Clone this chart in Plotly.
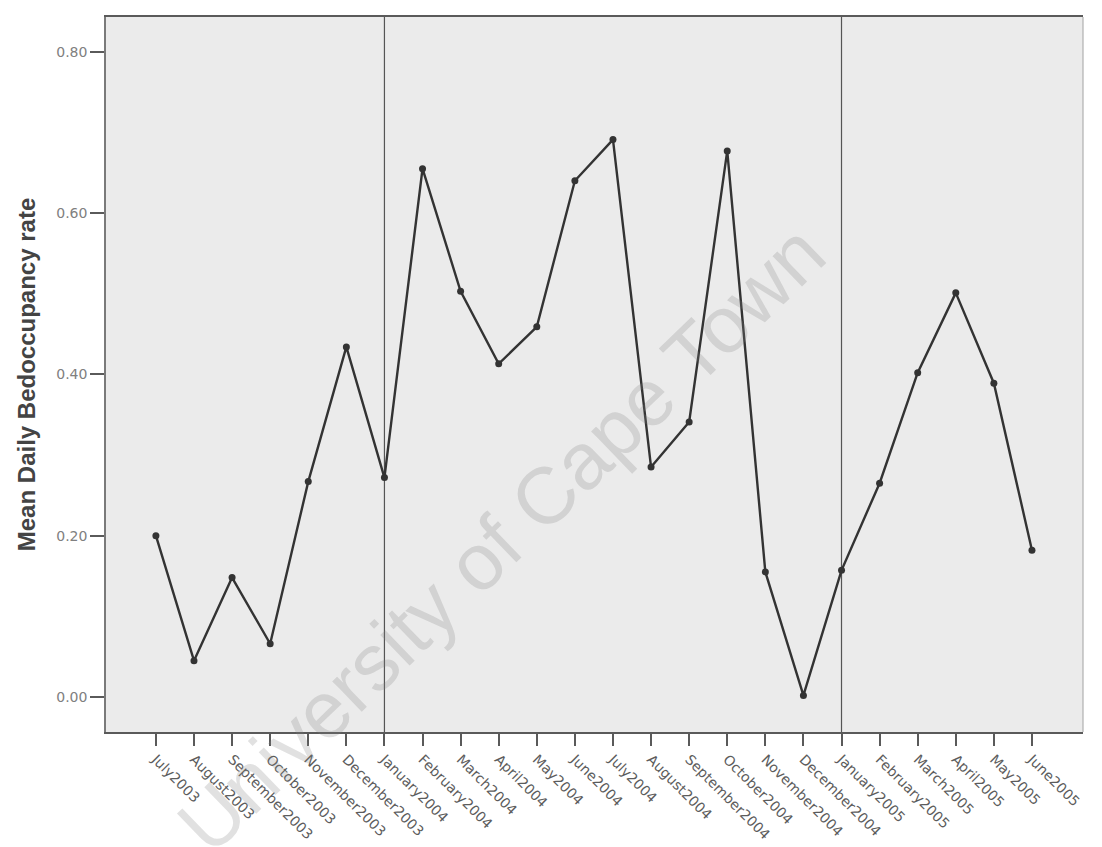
import plotly.graph_objects as go

# Monthly mean daily bed occupancy, July 2003 - June 2005
months = [
    "July2003", "August2003", "September2003", "October2003", "November2003", "December2003",
    "January2004", "February2004", "March2004", "April2004", "May2004", "June2004",
    "July2004", "August2004", "September2004", "October2004", "November2004", "December2004",
    "January2005", "February2005", "March2005", "April2005", "May2005", "June2005",
]
occupancy = [
    0.200, 0.045, 0.148, 0.066, 0.267, 0.434,
    0.272, 0.655, 0.503, 0.413, 0.459, 0.640,
    0.691, 0.285, 0.341, 0.677, 0.155, 0.002,
    0.157, 0.265, 0.402, 0.501, 0.389, 0.182,
]
year_breaks = ["January2004", "January2005"]
y_ticks = [0.0, 0.2, 0.4, 0.6, 0.8]

ink = "#333333"
axis_grey = "#5a5a5a"
label_grey = "#5c5c5c"

fig = go.Figure()
fig.add_trace(go.Scatter(
    x=months, y=occupancy, mode="lines+markers",
    line=dict(color=ink, width=2.4),
    marker=dict(color=ink, size=7),
    showlegend=False, hoverinfo="x+y",
))

# Year separators
for m in year_breaks:
    fig.add_shape(type="line", xref="x", yref="paper",
                  x0=months.index(m), x1=months.index(m), y0=0, y1=1,
                  line=dict(color="#555555", width=1.2), layer="below")

# Lighter right edge of the frame
fig.add_shape(type="line", xref="paper", yref="paper", x0=1, x1=1, y0=0, y1=1,
              line=dict(color="#b0b0b0", width=1.2))

# Watermark
fig.add_annotation(
    text="University of Cape Town", xref="paper", yref="paper",
    x=0.405, y=0.27, xanchor="center", yanchor="middle",
    showarrow=False, textangle=-44,
    font=dict(family="Liberation Sans, Arial, sans-serif", size=80,
              color="rgba(130,130,130,0.24)"),
)

fig.update_layout(
    width=1102, height=847,
    margin=dict(l=106, r=19, t=17, b=115),
    paper_bgcolor="white", plot_bgcolor="#ebebeb",
    font=dict(family="DejaVu Sans, sans-serif", color=label_grey),
    xaxis=dict(
        type="category", categoryorder="array", categoryarray=months,
        range=[-1.31, 24.34], showgrid=False, zeroline=False, automargin=False,
        showline=True, linecolor=axis_grey, linewidth=1.5, mirror=True,
        ticks="outside", ticklen=12, tickwidth=1.5, tickcolor=axis_grey,
        tickangle=45, tickfont=dict(family="DejaVu Sans, sans-serif", size=14, color=label_grey),
    ),
    yaxis=dict(
        range=[-0.0434, 0.843], tickvals=y_ticks, tickformat=".2f",
        showgrid=False, zeroline=False, automargin=False,
        showline=True, linecolor="#7a7a7a", linewidth=1.5,
        ticks="outside", ticklen=14, tickwidth=1.5, tickcolor=axis_grey,
        tickfont=dict(family="DejaVu Sans, sans-serif", size=14, color="#808080"),
        title=dict(text="<b>Mean Daily Bedoccupancy rate</b>", standoff=14,
                   font=dict(family="Liberation Sans, Arial, sans-serif", size=24, color="#444444")),
    ),
)

fig.write_html("out.html")
